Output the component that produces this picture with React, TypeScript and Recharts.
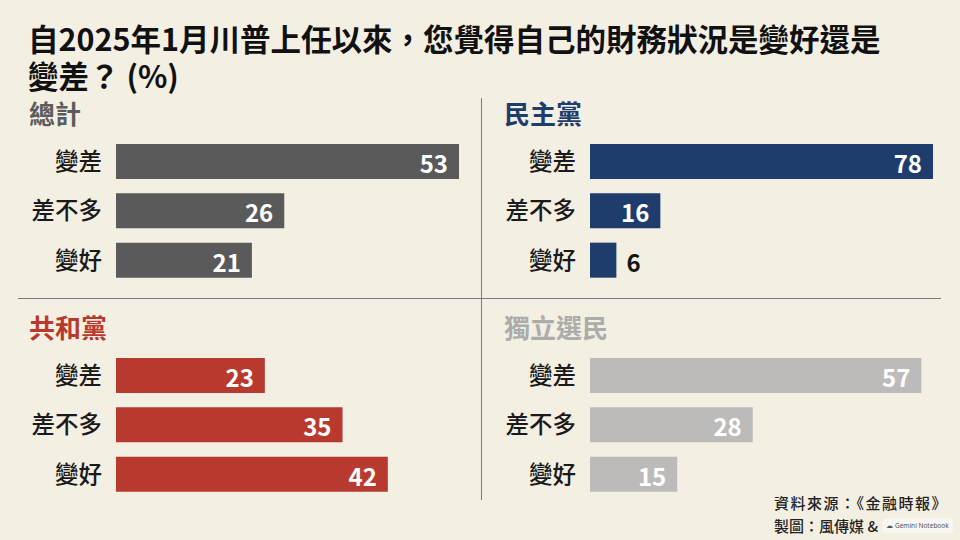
import { BarChart, Bar, XAxis, YAxis, LabelList } from 'recharts'

const CATEGORIES = ['變差', '差不多', '變好']
const TOTAL = [53, 26, 21]
const DEMOCRATS = [78, 16, 6]
const REPUBLICANS = [23, 35, 42]
const INDEPENDENTS = [57, 28, 15]
const PANEL_NAMES = ['總計', '民主黨', '共和黨', '獨立選民']
const AXIS_MAX = [53, 78, 53, 59]

const FONT = '"Noto Sans CJK TC", "Noto Sans", sans-serif'
const BG = '#f4efe3'

type PanelProps = {
  title: string
  values: number[]
  axisMax: number
  color: string
  titleColor: string
  left: number
  top: number
  axisWidth: number
}

function ValueLabel(props: any) {
  const { x, y, width, height, value } = props
  const inside = width > 40
  return (
    <text
      x={inside ? x + width - 11 : x + width + 10}
      y={y + height / 2 + 1}
      textAnchor={inside ? 'end' : 'start'}
      dominantBaseline="central"
      fill={inside ? '#ffffff' : '#141414'}
      fontSize={24}
      fontWeight={700}
      fontFamily={FONT}
    >
      {value}
    </text>
  )
}

function Panel({ title, values, axisMax, color, titleColor, left, top, axisWidth }: PanelProps) {
  const data = CATEGORIES.map((name, i) => ({ name, value: values[i] }))
  return (
    <>
      <div
        style={{
          position: 'absolute',
          left: left + (left === 0 ? 29 : 24),
          top: top - 33,
          fontSize: 26,
          lineHeight: '30px',
          fontWeight: 700,
          color: titleColor,
          fontFamily: FONT,
        }}
      >
        {title}
      </div>
      <div style={{ position: 'absolute', left, top: top + 6 }}>
        <BarChart
          width={480}
          height={148}
          data={data}
          layout="vertical"
          margin={{ top: 0, right: 480 - axisWidth - 343, bottom: 0, left: 0 }}
        >
          <XAxis type="number" domain={[0, axisMax]} hide />
          <YAxis
            type="category"
            dataKey="name"
            width={axisWidth}
            axisLine={false}
            tickLine={false}
            tickSize={0}
            tickMargin={14}
            tick={{ fontSize: 23.5, fill: '#1a1a1a', fontFamily: FONT, fontWeight: 500 }}
          />
          <Bar dataKey="value" fill={color} barSize={35} isAnimationActive={false}>
            <LabelList dataKey="value" content={ValueLabel} />
          </Bar>
        </BarChart>
      </div>
    </>
  )
}

export default function App() {
  return (
    <div
      style={{
        position: 'absolute',
        left: 0,
        top: 0,
        width: 960,
        height: 540,
        background: BG,
        overflow: 'hidden',
        fontFamily: FONT,
      }}
    >
      <div
        style={{
          position: 'absolute',
          left: 28,
          top: 21,
          fontSize: 30.5,
          lineHeight: '34px',
          fontWeight: 700,
          color: '#111',
          whiteSpace: 'nowrap',
        }}
      >
        自2025年1月川普上任以來，您覺得自己的財務狀況是變好還是
      </div>
      <div
        style={{
          position: 'absolute',
          left: 28,
          top: 58,
          fontSize: 30.5,
          lineHeight: '34px',
          fontWeight: 700,
          color: '#111',
          whiteSpace: 'nowrap',
        }}
      >
        變差？ (%)
      </div>

      <div style={{ position: 'absolute', left: 481, top: 98, width: 1, height: 402, background: '#7a7a7a' }} />
      <div style={{ position: 'absolute', left: 18, top: 298, width: 923, height: 1, background: '#7a7a7a' }} />

      <Panel title={PANEL_NAMES[0]} values={TOTAL} axisMax={AXIS_MAX[0]} color="#5a5a5a" titleColor="#5c5c5c" left={0} top={131} axisWidth={116} />
      <Panel title={PANEL_NAMES[1]} values={DEMOCRATS} axisMax={AXIS_MAX[1]} color="#1e3c6c" titleColor="#1e3c6c" left={480} top={131} axisWidth={110} />
      <Panel title={PANEL_NAMES[2]} values={REPUBLICANS} axisMax={AXIS_MAX[2]} color="#b8392d" titleColor="#b8392d" left={0} top={345} axisWidth={116} />
      <Panel title={PANEL_NAMES[3]} values={INDEPENDENTS} axisMax={AXIS_MAX[3]} color="#bcbbba" titleColor="#acacab" left={480} top={345} axisWidth={110} />

      <div
        style={{
          position: 'absolute',
          left: 774,
          top: 492,
          fontSize: 15,
          lineHeight: '22px',
          fontWeight: 500,
          letterSpacing: 1.5,
          color: '#222',
          whiteSpace: 'nowrap',
        }}
      >
        資料來源：《金融時報》
      </div>
      <div
        style={{
          position: 'absolute',
          left: 774,
          top: 516,
          fontSize: 15,
          lineHeight: '20px',
          fontWeight: 500,
          color: '#222',
          whiteSpace: 'nowrap',
        }}
      >
        製圖：風傳媒 &amp;
      </div>
      <div
        style={{
          position: 'absolute',
          left: 882,
          top: 518,
          width: 71,
          height: 15,
          background: '#f8f6f1',
          borderRadius: 3,
          fontSize: 6.5,
          lineHeight: '15px',
          color: '#555',
          fontFamily: '"Noto Sans", sans-serif',
          textAlign: 'center',
          whiteSpace: 'nowrap',
        }}
      >
        ☁ Gemini Notebook
      </div>
    </div>
  )
}
